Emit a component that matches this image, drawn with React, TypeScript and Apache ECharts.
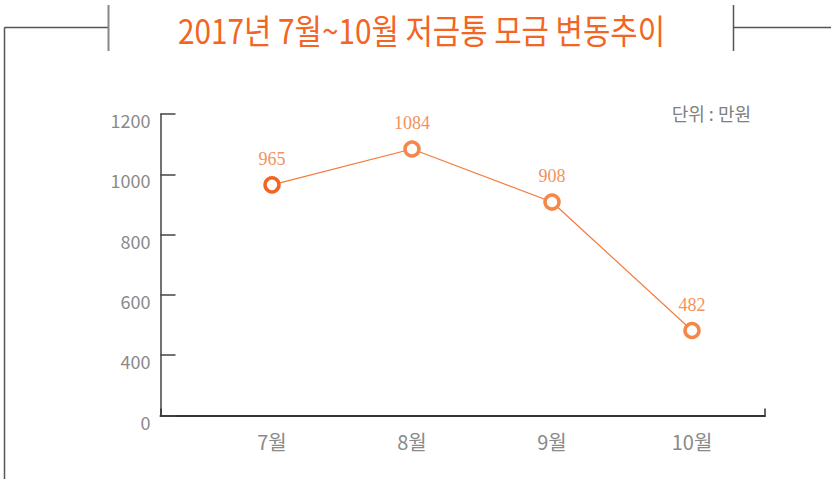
import React, { useEffect, useRef } from "react";
import * as echarts from "echarts";

const titleText = "2017년 7월~10월 저금통 모금 변동추이";
const unitText = "단위 : 만원";
const categories = ["7월", "8월", "9월", "10월"];
const savings = [965, 1084, 908, 482];
const pointColors = ["#F26522", "#F5874A", "#F5874A", "#F5874A"];
const yTickLabels = ["0", "400", "600", "800", "1000", "1200"];
const dataAxisMin = 200;
const dataAxisMax = 1200;

const NARROW = "'Liberation Sans Narrow', 'Noto Sans CJK KR', sans-serif";

export default function App() {
  const ref = useRef<HTMLDivElement>(null);
  useEffect(() => {
    if (!ref.current) return;
    const chart = echarts.init(ref.current, null, { renderer: "svg" });
    const frame = { stroke: "#555", lineWidth: 1.5 };
    chart.setOption({
      animation: false,
      backgroundColor: "#fff",
      graphic: [
        { type: "line", shape: { x1: 4.5, y1: 27.5, x2: 108, y2: 27.5 }, style: frame },
        { type: "line", shape: { x1: 4.5, y1: 27.5, x2: 4.5, y2: 479 }, style: frame },
        { type: "line", shape: { x1: 108.5, y1: 5, x2: 108.5, y2: 51 }, style: { stroke: "#888", lineWidth: 2 } },
        { type: "line", shape: { x1: 733.5, y1: 5, x2: 733.5, y2: 51 }, style: { stroke: "#555", lineWidth: 1.5 } },
        { type: "line", shape: { x1: 733.5, y1: 27.5, x2: 831, y2: 27.5 }, style: frame },
        {
          type: "text",
          x: 421.5,
          y: 29,
          scaleX: 0.875,
          style: {
            text: titleText,
            fill: "#F26522",
            font: "normal 34px 'Noto Sans CJK KR', sans-serif",
            align: "center",
            verticalAlign: "middle",
          },
        },
        {
          type: "text",
          x: 751,
          y: 113,
          style: {
            text: unitText,
            fill: "#808080",
            font: "normal 18px 'Noto Sans CJK KR', sans-serif",
            align: "right",
            verticalAlign: "middle",
          },
        },
      ],
      grid: [
        { left: 160.5, right: 66, top: 114, bottom: 63.5 },
        { left: 202, right: 69, top: 114, bottom: 63.5 },
      ],
      xAxis: [
        {
          type: "value",
          gridIndex: 0,
          min: 0,
          max: 1,
          interval: 1,
          axisLine: { show: true, lineStyle: { color: "#333", width: 2 } },
          axisTick: { show: true, inside: true, length: 7, lineStyle: { color: "#333", width: 1.5 } },
          axisLabel: { show: false },
          splitLine: { show: false },
        },
        {
          type: "category",
          gridIndex: 1,
          data: categories,
          boundaryGap: true,
          axisLine: { show: false },
          axisTick: { show: false },
          axisLabel: {
            color: "#8a8a8a",
            fontSize: 20,
            fontFamily: NARROW,
            margin: 16,
          },
        },
      ],
      yAxis: [
        {
          type: "category",
          gridIndex: 0,
          data: yTickLabels,
          boundaryGap: false,
          axisLine: { show: true, lineStyle: { color: "#444", width: 1.5 } },
          axisTick: { show: true, inside: true, length: 15, lineStyle: { color: "#444", width: 1.5 } },
          axisLabel: {
            color: "#8a8a8a",
            fontSize: 18,
            fontFamily: NARROW,
            margin: 10,
            verticalAlign: "top",
            lineHeight: 12,
          },
          splitLine: { show: false },
        },
        {
          type: "value",
          gridIndex: 1,
          min: dataAxisMin,
          max: dataAxisMax,
          show: false,
          splitLine: { show: false },
        },
      ],
      series: [
        {
          type: "line",
          xAxisIndex: 1,
          yAxisIndex: 1,
          data: savings.map((v, i) => ({
            value: v,
            itemStyle: { color: "#fff", borderColor: pointColors[i], borderWidth: 3.5 },
          })),
          symbol: "circle",
          symbolSize: 14,
          lineStyle: { color: "#F47A3A", width: 1.2 },
          label: {
            show: true,
            position: "top",
            distance: 8,
            color: "#F3925C",
            fontSize: 18,
            fontFamily: "'Liberation Serif', 'DejaVu Serif', serif",
          },
        },
      ],
    });
    return () => chart.dispose();
  }, []);
  return (
    <div
      ref={ref}
      style={{ position: "fixed", left: 0, top: 0, width: 831, height: 479, background: "#fff" }}
    />
  );
}
